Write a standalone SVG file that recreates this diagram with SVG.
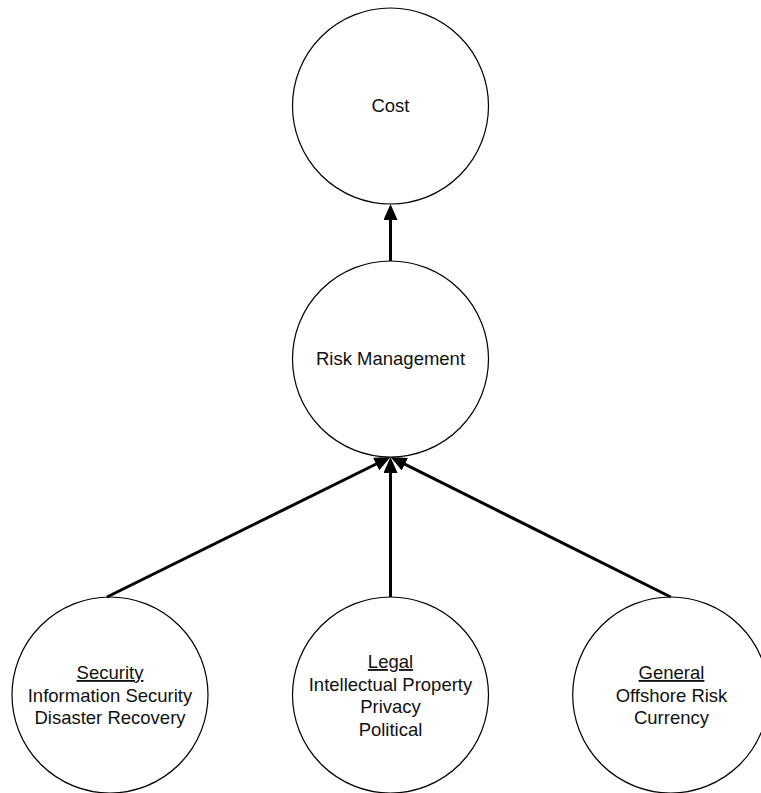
<svg xmlns="http://www.w3.org/2000/svg" width="761" height="793" viewBox="0 0 761 793">
<style>
.node{fill:#fff;stroke:#000;stroke-width:1.2}
.lbl{font-family:"Liberation Sans",Arial,sans-serif;font-size:18.5px;fill:#111;text-anchor:middle}
.conn{stroke:#000;stroke-width:3;fill:none}
.u{text-decoration:underline}
</style>
<defs>
<marker id="arr" markerUnits="userSpaceOnUse" markerWidth="16" markerHeight="14" refX="8" refY="7" orient="auto">
<path d="M0,0 L16,7 L0,14 z" fill="#000"/>
</marker>
</defs>
<rect width="761" height="793" fill="#fff"/>
<g id="cost">
<circle class="node" cx="390.5" cy="106" r="98"/>
<text class="lbl" x="390.5" y="112">Cost</text>
</g>
<g id="risk">
<circle class="node" cx="390.5" cy="359" r="98"/>
<text class="lbl" x="390.5" y="365">Risk Management</text>
</g>
<g id="security">
<circle class="node" cx="110" cy="695" r="98"/>
<text class="lbl" x="110" y="679"><tspan class="u">Security</tspan></text>
<text class="lbl" x="110" y="701.5">Information Security</text>
<text class="lbl" x="110" y="724">Disaster Recovery</text>
</g>
<g id="legal">
<circle class="node" cx="390.5" cy="695" r="98"/>
<text class="lbl" x="390.5" y="668"><tspan class="u">Legal</tspan></text>
<text class="lbl" x="390.5" y="690.5">Intellectual Property</text>
<text class="lbl" x="390.5" y="713">Privacy</text>
<text class="lbl" x="390.5" y="735.5">Political</text>
</g>
<g id="general">
<circle class="node" cx="670.7" cy="695" r="98"/>
<text class="lbl" x="671.5" y="679"><tspan class="u">General</tspan></text>
<text class="lbl" x="671.5" y="701.5">Offshore Risk</text>
<text class="lbl" x="671.5" y="724">Currency</text>
</g>
<g id="connectors">
<line class="conn" x1="390.5" y1="261" x2="390.5" y2="212" marker-end="url(#arr)"/>
<line class="conn" x1="390.5" y1="597" x2="390.5" y2="465" marker-end="url(#arr)"/>
<line class="conn" x1="107" y1="597" x2="383.3" y2="460.5" marker-end="url(#arr)"/>
<line class="conn" x1="670.7" y1="597" x2="397.7" y2="460.6" marker-end="url(#arr)"/>
</g>
</svg>
